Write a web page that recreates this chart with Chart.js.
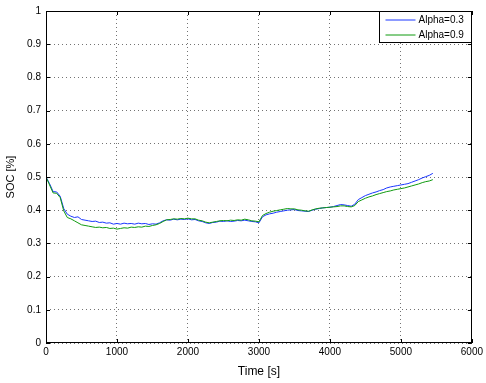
<!DOCTYPE html>
<html>
<head>
<meta charset="utf-8">
<script src="https://cdn.jsdelivr.net/npm/chart.js@4"></script>
<style>
  html, body { margin: 0; padding: 0; background: #fff; }
  #wrap { width: 486px; height: 383px; position: relative; }
</style>
</head>
<body>
<div id="wrap"><canvas id="socChart" width="486" height="383"></canvas></div>
<script>
// time stamps [s]
const timeS = [
  0, 50, 100, 150, 200, 250, 300, 350, 400, 450,
  500, 550, 600, 650, 700, 750, 800, 850, 900, 950,
  1000, 1050, 1100, 1150, 1200, 1250, 1300, 1350, 1400, 1450,
  1500, 1550, 1600, 1650, 1700, 1750, 1800, 1850, 1900, 1950,
  2000, 2050, 2100, 2150, 2200, 2250, 2300, 2350, 2400, 2450,
  2500, 2550, 2600, 2650, 2700, 2750, 2800, 2850, 2900, 2950,
  3000, 3050, 3100, 3150, 3200, 3250, 3300, 3350, 3400, 3450,
  3500, 3550, 3600, 3650, 3700, 3750, 3800, 3850, 3900, 3950,
  4000, 4050, 4100, 4150, 4200, 4250, 4300, 4350, 4400, 4450,
  4500, 4550, 4600, 4650, 4700, 4750, 4800, 4850, 4900, 4950,
  5000, 5050, 5100, 5150, 5200, 5250, 5300, 5350, 5400, 5450];

// SOC estimate, alpha = 0.3
const socAlpha03 = [
  0.500, 0.480, 0.456, 0.455, 0.442, 0.405, 0.388, 0.382, 0.378, 0.380,
  0.372, 0.370, 0.368, 0.366, 0.367, 0.363, 0.364, 0.361, 0.362, 0.358,
  0.360, 0.358, 0.361, 0.359, 0.360, 0.358, 0.361, 0.359, 0.360, 0.357,
  0.359, 0.358, 0.362, 0.368, 0.371, 0.370, 0.373, 0.371, 0.373, 0.372,
  0.374, 0.371, 0.372, 0.368, 0.366, 0.362, 0.360, 0.363, 0.364, 0.367,
  0.366, 0.368, 0.366, 0.367, 0.369, 0.368, 0.370, 0.368, 0.366, 0.365,
  0.362, 0.380, 0.386, 0.389, 0.391, 0.394, 0.396, 0.398, 0.400, 0.401,
  0.402, 0.399, 0.398, 0.397, 0.396, 0.400, 0.403, 0.405, 0.407, 0.408,
  0.409, 0.411, 0.414, 0.417, 0.416, 0.414, 0.412, 0.418, 0.432, 0.438,
  0.444, 0.448, 0.452, 0.455, 0.459, 0.462, 0.467, 0.470, 0.472, 0.474,
  0.476, 0.478, 0.480, 0.484, 0.488, 0.492, 0.497, 0.501, 0.505, 0.511];

// SOC estimate, alpha = 0.9
const socAlpha09 = [
  0.500, 0.476, 0.452, 0.451, 0.438, 0.398, 0.378, 0.374, 0.368, 0.362,
  0.356, 0.354, 0.352, 0.350, 0.348, 0.349, 0.347, 0.348, 0.345, 0.346,
  0.343, 0.345, 0.347, 0.346, 0.349, 0.348, 0.350, 0.349, 0.352, 0.351,
  0.354, 0.356, 0.360, 0.366, 0.371, 0.372, 0.374, 0.373, 0.375, 0.374,
  0.376, 0.374, 0.374, 0.370, 0.368, 0.364, 0.362, 0.364, 0.366, 0.368,
  0.369, 0.368, 0.370, 0.369, 0.371, 0.370, 0.373, 0.371, 0.368, 0.367,
  0.365, 0.384, 0.390, 0.394, 0.397, 0.399, 0.401, 0.403, 0.405, 0.404,
  0.404, 0.401, 0.400, 0.398, 0.397, 0.401, 0.404, 0.406, 0.407, 0.408,
  0.409, 0.410, 0.411, 0.413, 0.413, 0.411, 0.410, 0.414, 0.426, 0.431,
  0.436, 0.440, 0.443, 0.447, 0.450, 0.453, 0.456, 0.458, 0.461, 0.463,
  0.465, 0.467, 0.470, 0.473, 0.476, 0.479, 0.483, 0.486, 0.488, 0.492];

const xTickLabels = ['0', '1000', '2000', '3000', '4000', '5000', '6000'];
const yTickLabels = ['0', '0.1', '0.2', '0.3', '0.4', '0.5', '0.6', '0.7', '0.8', '0.9', '1'];

const toPoints = vals => vals.map((v, i) => ({ x: timeS[i], y: v }));

// box around the axes + inward ticks (matlab look)
const matlabBox = {
  id: 'matlabBox',
  afterDatasetsDraw(chart) {
    const { ctx, chartArea: a, scales: { x, y } } = chart;
    ctx.save();
    ctx.strokeStyle = '#000';
    ctx.lineWidth = 1;
    ctx.strokeRect(Math.round(a.left) + 0.5, Math.round(a.top) + 0.5,
      Math.round(a.width) - 1, Math.round(a.height) - 1);
    ctx.beginPath();
    x.ticks.forEach(t => {
      const px = Math.round(x.getPixelForValue(t.value)) + 0.5;
      ctx.moveTo(px, a.bottom); ctx.lineTo(px, a.bottom - 4);
      ctx.moveTo(px, a.top); ctx.lineTo(px, a.top + 4);
    });
    y.ticks.forEach(t => {
      const py = Math.round(y.getPixelForValue(t.value)) + 0.5;
      ctx.moveTo(a.left, py); ctx.lineTo(a.left + 4, py);
      ctx.moveTo(a.right, py); ctx.lineTo(a.right - 4, py);
    });
    ctx.stroke();

    // legend box, top right
    const bx = 379.5, by = 11.5, bw = 92, bh = 31;
    ctx.fillStyle = '#fff';
    ctx.fillRect(bx, by, bw, bh);
    ctx.strokeRect(bx, by, bw, bh);
    ctx.font = '10px "Liberation Sans", Arial, sans-serif';
    ctx.textBaseline = 'middle';
    chart.data.datasets.forEach((ds, i) => {
      const ly = Math.round(by + 8 + i * 15);
      ctx.strokeStyle = ds.borderColor;
      ctx.lineWidth = 1;
      ctx.beginPath();
      ctx.moveTo(bx + 6, ly); ctx.lineTo(bx + 36, ly);
      ctx.stroke();
      ctx.fillStyle = '#000';
      ctx.fillText(ds.label, bx + 39, ly);
    });
    ctx.restore();
  }
};

new Chart(document.getElementById('socChart'), {
  type: 'line',
  data: {
    datasets: [
      { label: 'Alpha=0.3', data: toPoints(socAlpha03), borderColor: '#1a36ff', borderWidth: 1, pointRadius: 0, tension: 0, order: 1 },
      { label: 'Alpha=0.9', data: toPoints(socAlpha09), borderColor: '#0f9a0f', borderWidth: 1, pointRadius: 0, tension: 0, order: 0 }
    ]
  },
  plugins: [matlabBox],
  options: {
    responsive: false,
    animation: false,
    layout: { padding: { top: 5, right: 11, left: 0, bottom: 0 } },
    plugins: { legend: { display: false }, tooltip: { enabled: false } },
    scales: {
      x: {
        type: 'linear', min: 0, max: 6000,
        afterFit(s) { s.height = 40; },
        ticks: {
          stepSize: 1000, padding: 3, color: '#000', maxRotation: 0,
          font: { family: '"Liberation Sans", Arial, sans-serif', size: 10 },
          callback: (v, i) => xTickLabels[i]
        },
        grid: { color: 'rgba(0,0,0,0.55)', drawTicks: false },
        border: { display: false, dash: [1, 3] },
        title: { display: true, text: 'Time [s]', color: '#000', padding: { top: 4 },
          font: { family: '"Liberation Sans", Arial, sans-serif', size: 12 } }
      },
      y: {
        min: 0, max: 1,
        afterFit(s) { s.width = 46; },
        ticks: {
          stepSize: 0.1, padding: 5, color: '#000',
          font: { family: '"Liberation Sans", Arial, sans-serif', size: 10 },
          callback: (v, i) => yTickLabels[i]
        },
        grid: { color: 'rgba(0,0,0,0.55)', drawTicks: false },
        border: { display: false, dash: [1, 3] },
        title: { display: true, text: 'SOC [%]', color: '#000', padding: { bottom: 2 },
          font: { family: '"Liberation Sans", Arial, sans-serif', size: 11 } }
      }
    }
  }
});
</script>
</body>
</html>
